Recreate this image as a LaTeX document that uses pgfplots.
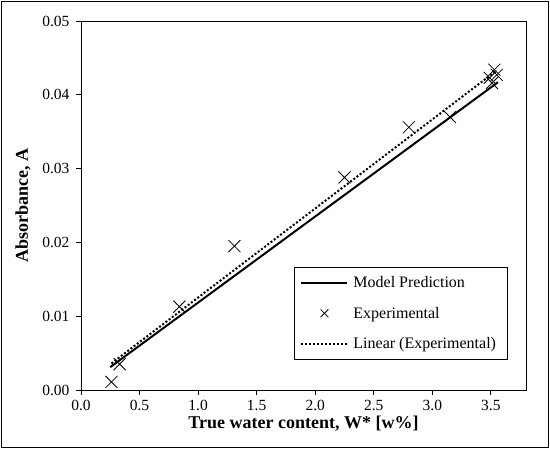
\documentclass[border=0pt]{standalone}
\usepackage{fontspec}
\setmainfont{Liberation Serif}
\usepackage{pgfplots}
\pgfplotsset{compat=1.18}
\pgfplotsset{
  lineleg/.style={legend image code/.code={\draw[##1] (0pt,0pt) -- (46pt,0pt);}},
  markleg/.style={legend image code/.code={\draw[##1, mark size=5.5pt] plot coordinates {(23pt,0pt)};}},
}
\begin{document}
\begin{tikzpicture}
\useasboundingbox (-81pt,-60pt) rectangle (469pt,390pt);
\begin{axis}[
  at={(0pt,0pt)}, anchor=south west,
  scale only axis, width=445pt, height=369pt,
  xmin=0, xmax=3.8, ymin=0, ymax=0.05,
  xtick={0,0.5,...,3.5}, ytick={0,0.01,0.02,0.03,0.04,0.05},
  scaled y ticks=false,
  xticklabel style={yshift=-2pt, /pgf/number format/fixed, /pgf/number format/fixed zerofill, /pgf/number format/precision=1},
  yticklabel style={xshift=-3pt, /pgf/number format/fixed, /pgf/number format/fixed zerofill, /pgf/number format/precision=2},
  /pgf/number format/assume math mode=true,
  tick label style={font=\fontsize{15.5}{18}\selectfont},
  tick align=outside, xtick pos=bottom, ytick pos=left,
  major tick length=5pt,
  axis line style={black, line width=0.9pt},
  every tick/.style={black, line width=0.9pt},
  xlabel={\textbf{True water content, W* [w\%]}},
  ylabel={\textbf{Absorbance, A}},
  label style={font=\fontsize{18}{21}\selectfont},
  xlabel style={at={(axis description cs:0.5,0)}, anchor=center, yshift=-34pt},
  ylabel style={at={(axis description cs:0,0.5)}, anchor=center, yshift=58pt},
  legend style={at={(213pt,123pt)}, anchor=north west, font=\fontsize{16}{18}\selectfont,
    draw=black, line width=0.9pt, row sep=14pt, inner xsep=6pt, inner ysep=7pt,
    cells={anchor=west}, nodes={inner xsep=5pt}},
  legend cell align=left,
]
\addplot[black, line width=2pt, no marks, lineleg]
  coordinates {(0.25,0.0031) (3.56,0.0417)};
\addlegendentry{Model Prediction}
\addplot[only marks, mark=x, mark size=8.5pt, black, line width=0.8pt, markleg]
  coordinates {
    (0.26,0.0011) (0.33,0.0035) (0.84,0.0113) (1.31,0.0195) (2.25,0.0288)
    (2.80,0.0356) (3.15,0.0370) (3.49,0.0423) (3.51,0.0416) (3.53,0.0434) (3.55,0.0427)
  };
\addlegendentry{Experimental}
\addplot[black, line width=2pt, no marks, dash pattern=on 2pt off 2pt, lineleg]
  coordinates {(0.26,0.0036) (3.55,0.0433)};
\addlegendentry{Linear (Experimental)}
\end{axis}
\draw[black, line width=0.9pt] (-80pt,-57pt) rectangle (467pt,389pt);
\end{tikzpicture}
\end{document}
